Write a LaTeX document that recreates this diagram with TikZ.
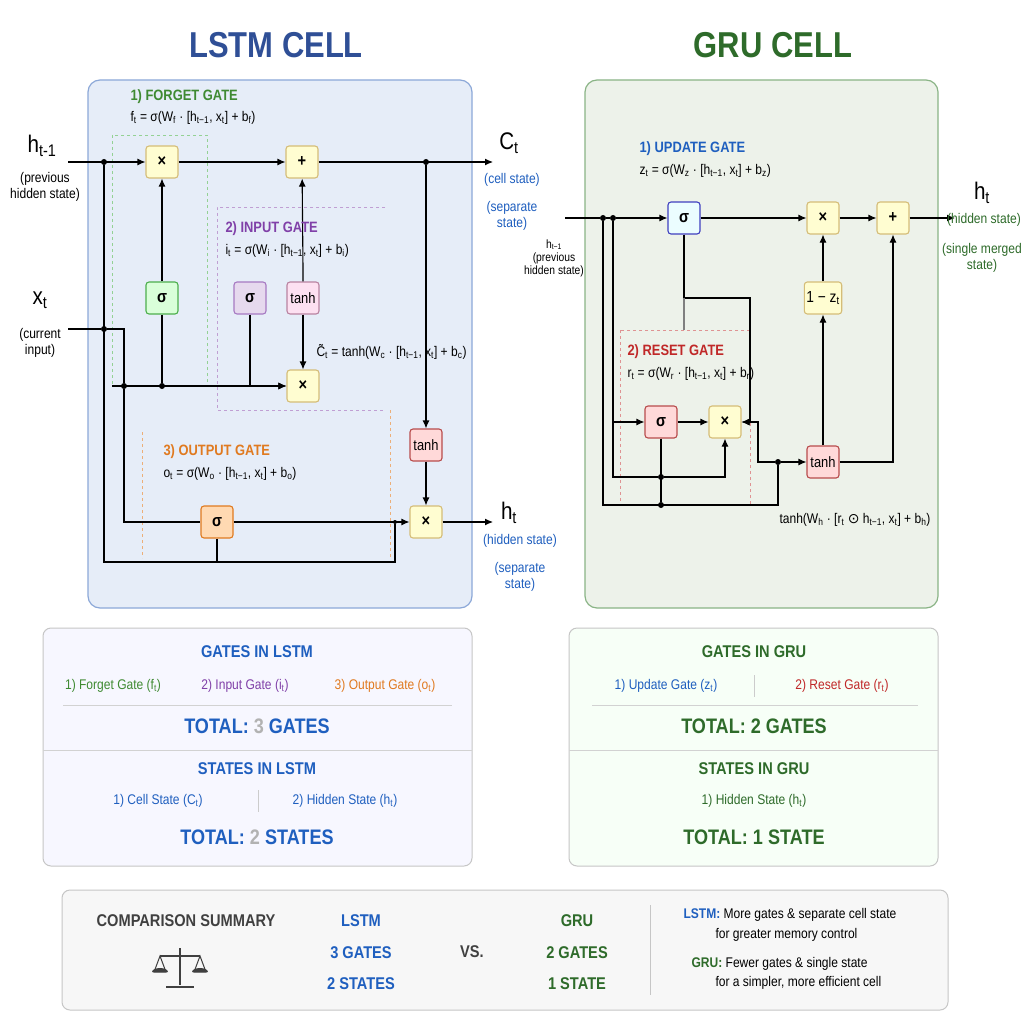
\documentclass[tikz,border=0pt]{standalone}
\usepackage{fontspec}
\setmainfont[FakeStretch=0.86]{Liberation Sans}
\newfontfamily\dejavu{DejaVu Sans}
\usetikzlibrary{arrows.meta}
\newcommand{\subt}[1]{\textsubscript{#1}}
\definecolor{ltitle}{HTML}{2F4F96}
\definecolor{gtitle}{HTML}{2E6B2A}
\definecolor{lblue}{HTML}{1F5FBF}
\definecolor{fgreen}{HTML}{3F8A32}
\definecolor{ipurple}{HTML}{8040A8}
\definecolor{oorange}{HTML}{E07A20}
\definecolor{rred}{HTML}{C02828}
\definecolor{lpanel}{HTML}{E6EDF8}
\definecolor{lframe}{HTML}{8CA8D8}
\definecolor{gpanel}{HTML}{EDF2EA}
\definecolor{gframe}{HTML}{8AB486}
\tikzset{
  op/.style={draw, rounded corners=3pt, minimum size=32pt, line width=1.1pt, inner sep=2pt, font=\fontsize{17}{17}\selectfont\bfseries},
  yel/.style={op, fill=yellow!18, draw=yellow!50!orange!70!black!60},
  wire/.style={line width=1.1pt},
  arr/.style={wire, -{Latex[length=8pt,width=7pt]}},
  dot/.style={circle, fill=black, inner sep=0pt, minimum size=6pt},
  txt/.style={font=\fontsize{14}{16}\selectfont, align=center},
  ftxt/.style={font=\fontsize{14}{16}\selectfont, anchor=west},
  head/.style={font=\fontsize{15}{17}\selectfont\bfseries, anchor=west},
  big/.style={font=\fontsize{24}{24}\selectfont},
  sh/.style={font=\fontsize{17}{19}\selectfont\bfseries},
  tot/.style={font=\fontsize{21}{23}\selectfont\bfseries},
}
\begin{document}
\begin{tikzpicture}[x=1pt,y=-1pt]
\useasboundingbox[fill=white] (0,0) rectangle (1024,1024);
% titles and panels
\node[font=\fontsize{36}{36}\selectfont\bfseries, text=ltitle] (ltitle) at (276,45) {LSTM CELL};
\node[font=\fontsize{36}{36}\selectfont\bfseries, text=gtitle] (gtitle) at (773,45) {GRU CELL};
\draw[rounded corners=12pt, fill=lpanel, draw=lframe, line width=1.2pt] (88,80) rectangle (472,608);
\draw[rounded corners=12pt, fill=gpanel, draw=gframe, line width=1.2pt] (585,80) rectangle (938,608);
% LSTM gate areas
\draw[dashed, green!40!gray!60] (112,135) rectangle (207,385);
\draw[dashed, ipurple!50] (385,207) -- (217,207) -- (217,410) -- (385,410);
\draw[dashed, oorange!60] (390,410) -- (390,558);
\draw[dashed, oorange!60] (142,432) -- (142,558);
% LSTM nodes
\node[yel] (mulf) at (162,162) {×};
\node[yel] (add) at (302,162) {+};
\node[op, fill=green!15, draw=green!55!black!70] (sigf) at (162,298) {σ};
\node[op, fill=ipurple!20, draw=ipurple!70] (sigi) at (250,298) {σ};
\node[op, fill=magenta!12, draw=magenta!50!black!60, font=\fontsize{15}{15}\selectfont] (tanhi) at (303,298) {tanh};
\node[yel] (muli) at (303,386) {×};
\node[op, fill=red!15, draw=red!60!black!70, font=\fontsize{15}{15}\selectfont] (tanhc) at (426,445) {tanh};
\node[op, fill=orange!30, draw=oorange] (sigo) at (217,522) {σ};
\node[yel] (mulo) at (426,522) {×};
\coordinate (hin) at (68,162);
\coordinate (xin) at (68,329);
\coordinate (cout) at (493,162);
\coordinate (hout) at (493,522);
\node[dot] (d1) at (104,162) {};
\node[dot] (d2) at (104,329) {};
\node[dot] (d3) at (124,386) {};
\node[dot] (d4) at (162,386) {};
\node[dot] (d5) at (426,162) {};
\node[dot, minimum size=4pt] (d6) at (395,522) {};
% LSTM wires
\draw[arr] (hin) -- (mulf);
\draw[arr] (mulf) -- (add);
\draw[arr] (add) -- (cout);
\draw[arr] (sigf) -- (mulf);
\draw[arr] (tanhi.north) -- ++(0,-13) -- (add);
\draw[arr] (d5) -- (tanhc);
\draw[arr] (tanhc) -- (mulo);
\draw[arr] (mulo) -- (hout);
\draw[wire] (xin) -- (d2) -- (124,329) -- (d3) |- (sigo);
\draw[arr] (112,386) -- (muli);
\draw[wire] (sigf) -- (d4);
\draw[arr] (sigi) |- (muli);
\draw[arr] (tanhi) -- (muli);
\draw[arr] (sigo) -- (mulo);
\draw[wire] (d1) -- (104,562) -- (395,562) -- (d6);
\draw[wire] (sigo) -- (217,562);
% LSTM labels
\node[big] (lh) at (42,146) {h\subt{t-1}};
\node[txt] (lhp) at (45,187) {(previous\\hidden state)};
\node[big] (lx) at (40,300) {x\subt{t}};
\node[txt] (lxc) at (40,343) {(current\\input)};
\node[big] (lc) at (509,143) {C\subt{t}};
\node[txt, text=lblue] (lcs) at (512,180) {(cell state)};
\node[txt, text=lblue] (lcs2) at (512,216) {(separate\\state)};
\node[big] (lht) at (509,513) {h\subt{t}};
\node[txt, text=lblue] (lhs) at (520,541) {(hidden state)};
\node[txt, text=lblue] (lhs2) at (520,577) {(separate\\state)};
\node[head, text=fgreen] (fg) at (127,97) {1) FORGET GATE};
\node[ftxt] (ff) at (127,118) {f\subt{t} = σ(W\subt{f} · [h\subt{t−1}, x\subt{t}] + b\subt{f})};
\node[head, text=ipurple] (ig) at (222,229) {2) INPUT GATE};
\node[ftxt] (if) at (222,251) {i\subt{t} = σ(W\subt{i} · [h\subt{t−1}, x\subt{t}] + b\subt{i})};
\node[ftxt] (cf) at (313,352) {\~C\subt{t} = tanh(W\subt{c} · [h\subt{t−1}, x\subt{t}] + b\subt{c})};
\node[head, text=oorange] (og) at (160,452) {3) OUTPUT GATE};
\node[ftxt] (of) at (160,474) {o\subt{t} = σ(W\subt{o} · [h\subt{t−1}, x\subt{t}] + b\subt{o})};
% GRU gate area
\draw[dashed, rred!50] (620,330) rectangle (750,505);
% GRU nodes
\node[op, fill=blue!12!cyan!8, draw=blue!50!gray] (sigz) at (684,218) {σ};
\node[yel] (mulg) at (823,218) {×};
\node[yel] (addg) at (893,218) {+};
\node[yel, font=\fontsize{16}{16}\selectfont] (onez) at (823,298) {1 − z\subt{t}};
\node[op, fill=red!15, draw=red!60!black!70] (sigr) at (661,422) {σ};
\node[yel] (mulr) at (725,422) {×};
\node[op, fill=red!15, draw=red!60!black!70, font=\fontsize{15}{15}\selectfont] (tanhg) at (823,462) {tanh};
\coordinate (gin) at (565,218);
\coordinate (gout) at (955,218);
\node[dot] (g1) at (603,218) {};
\node[dot] (g2) at (613,218) {};
\node[dot] (g3) at (661,477) {};
\node[dot] (g4) at (661,505) {};
\node[dot] (g5) at (778,462) {};
% GRU wires
\draw[wire] (gin) -- (g1) -- (g2);
\draw[arr] (g2) -- (sigz);
\draw[arr] (sigz) -- (mulg);
\draw[arr] (mulg) -- (addg);
\draw[arr] (addg) -- (gout);
\draw[arr] (onez) -- (mulg);
\draw[arr] (tanhg) -- (onez);
\draw[arr] (tanhg) -| (addg);
\draw[arr] (sigz) |- (750,298) |- (mulr);
\draw[wire, gray] (684,298) -- (684,330);
\draw[arr] (g2) |- (sigr);
\draw[arr] (sigr) -- (mulr);
\draw[arr] (613,422) |- (g3) -| (mulr);
\draw[wire] (sigr) -- (g4);
\draw[arr] (g1) |- (778,505) -- (g5) -- (tanhg);
\draw[arr] (g5) -- (758,462) |- (mulr);
% GRU labels
\node[font=\fontsize{12}{13}\selectfont, align=center] (gh) at (554,258) {h\subt{t−1}\\(previous\\hidden state)};
\node[big] (ght) at (982,193) {h\subt{t}};
\node[txt, text=gtitle] (ghs) at (984,220) {(hidden state)};
\node[txt, text=gtitle] (ghs2) at (982,258) {(single merged\\state)};
\node[head, text=lblue] (ug) at (636,149) {1) UPDATE GATE};
\node[ftxt] (uf) at (636,171) {z\subt{t} = σ(W\subt{z} · [h\subt{t−1}, x\subt{t}] + b\subt{z})};
\node[head, text=rred] (rg) at (624,352) {2) RESET GATE};
\node[ftxt] (rf) at (624,374) {r\subt{t} = σ(W\subt{r} · [h\subt{t−1}, x\subt{t}] + b\subt{r})};
\node[txt] (hf) at (855,520) {tanh(W\subt{h} · [r\subt{t} {\dejavu ⊙} h\subt{t−1}, x\subt{t}] + b\subt{h})};
% summary panels
\draw[rounded corners=8pt, fill=blue!3, draw=gray!45, line width=1pt] (43,628) rectangle (472,866);
\draw[gray!35, line width=1pt] (63,705) -- (452,705);
\draw[gray!35, line width=1pt] (43,750) -- (472,750);
\draw[gray!40, line width=1pt] (258,790) -- (258,812);
\node[sh, text=lblue] (lgates) at (257,652) {GATES IN LSTM};
\node[txt, text=fgreen] (l1) at (113,686) {1) Forget Gate (f\subt{t})};
\node[txt, text=ipurple] (l2) at (245,686) {2) Input Gate (i\subt{t})};
\node[txt, text=oorange] (l3) at (385,686) {3) Output Gate (o\subt{t})};
\node[tot, text=lblue] (ltot) at (257,726) {TOTAL: {\color{gray!60}3} GATES};
\node[sh, text=lblue] (lstates) at (257,769) {STATES IN LSTM};
\node[txt, text=lblue] (ls1) at (158,801) {1) Cell State (C\subt{t})};
\node[txt, text=lblue] (ls2) at (345,801) {2) Hidden State (h\subt{t})};
\node[tot, text=lblue] (lstot) at (257,837) {TOTAL: {\color{gray!60}2} STATES};
\draw[rounded corners=8pt, fill=green!3, draw=gray!45, line width=1pt] (569,628) rectangle (938,866);
\draw[gray!35, line width=1pt] (592,705) -- (918,705);
\draw[gray!35, line width=1pt] (569,750) -- (938,750);
\draw[gray!40, line width=1pt] (754,675) -- (754,697);
\node[sh, text=gtitle] (ggates) at (754,652) {GATES IN GRU};
\node[txt, text=lblue] (g1t) at (666,686) {1) Update Gate (z\subt{t})};
\node[txt, text=rred] (g2t) at (842,686) {2) Reset Gate (r\subt{t})};
\node[tot, text=gtitle] (gtot) at (754,726) {TOTAL: 2 GATES};
\node[sh, text=gtitle] (gstates) at (754,769) {STATES IN GRU};
\node[txt, text=gtitle] (gs1) at (754,801) {1) Hidden State (h\subt{t})};
\node[tot, text=gtitle] (gstot) at (754,837) {TOTAL: 1 STATE};
% comparison
\draw[rounded corners=8pt, fill=gray!6, draw=gray!45, line width=1pt] (62,890) rectangle (948,1010);
\draw[gray!45, line width=1pt] (650,905) -- (650,995);
\node[sh, text=black!75] (cs) at (186,921) {COMPARISON SUMMARY};
\draw[black!75, line width=2pt] (180,948) -- (180,985) (166,987) -- (194,987) (160,956) -- (200,956);
\draw[black!75, line width=1pt] (160,956) -- (154,972) -- (166,972) -- cycle (200,956) -- (194,972) -- (206,972) -- cycle;
\fill[black!75] (152,972) arc (180:360:8 and 4) (192,972) arc (180:360:8 and 4);
\node[sh, text=lblue] (cl) at (361,921) {LSTM};
\node[sh, text=lblue] (cl2) at (361,953) {3 GATES};
\node[sh, text=lblue] (cl3) at (361,984) {2 STATES};
\node[sh, text=black!75] (vs) at (472,952) {VS.};
\node[sh, text=gtitle] (cg) at (577,921) {GRU};
\node[sh, text=gtitle] (cg2) at (577,953) {2 GATES};
\node[sh, text=gtitle] (cg3) at (577,984) {1 STATE};
\node[ftxt] (n1) at (680,915) {{\bfseries\color{lblue}LSTM:} More gates \& separate cell state};
\node[ftxt] (n2) at (712,935) {for greater memory control};
\node[ftxt] (n3) at (688,964) {{\bfseries\color{gtitle}GRU:} Fewer gates \& single state};
\node[ftxt] (n4) at (712,983) {for a simpler, more efficient cell};
\end{tikzpicture}
\end{document}
